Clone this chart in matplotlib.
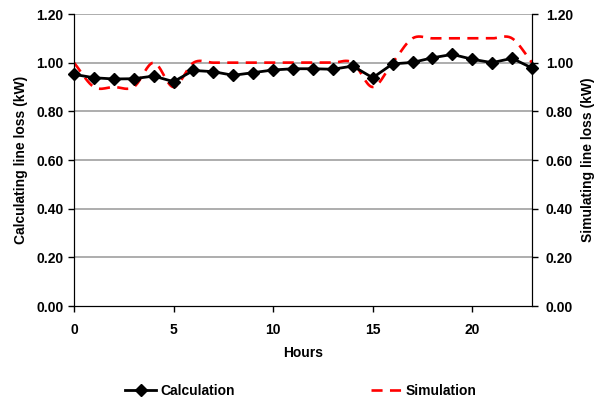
import matplotlib.pyplot as plt
import numpy as np

plt.rcParams['font.family'] = ['Liberation Sans', 'DejaVu Sans']
plt.rcParams['font.weight'] = 'bold'

hours = list(range(24))
calculation = [0.952, 0.938, 0.933, 0.934, 0.945, 0.922, 0.968, 0.963, 0.948, 0.959,
               0.970, 0.975, 0.975, 0.973, 0.986, 0.938, 0.995, 1.001, 1.020, 1.034,
               1.014, 1.000, 1.018, 0.978]
simulation = [1.0, 0.9, 0.9, 0.9, 1.0, 0.9, 1.0, 1.0, 1.0, 1.0,
              1.0, 1.0, 1.0, 1.0, 1.0, 0.9, 1.0, 1.1, 1.1, 1.1,
              1.1, 1.1, 1.1, 1.0]
yticks = [0.0, 0.2, 0.4, 0.6, 0.8, 1.0, 1.2]


def smooth(x, y, n=20):
    # Excel-style smoothed line (Catmull-Rom)
    x = np.asarray(x, float)
    y = np.asarray(y, float)
    px = np.concatenate([[2 * x[0] - x[1]], x, [2 * x[-1] - x[-2]]])
    py = np.concatenate([[2 * y[0] - y[1]], y, [2 * y[-1] - y[-2]]])
    xs, ys = [], []
    t = np.linspace(0, 1, n, endpoint=False)
    for i in range(1, len(px) - 2):
        for p, out in ((px, xs), (py, ys)):
            p0, p1, p2, p3 = p[i - 1], p[i], p[i + 1], p[i + 2]
            out.extend(0.5 * (2 * p1 + (-p0 + p2) * t
                              + (2 * p0 - 5 * p1 + 4 * p2 - p3) * t ** 2
                              + (-p0 + 3 * p1 - 3 * p2 + p3) * t ** 3))
    xs.append(x[-1])
    ys.append(y[-1])
    return xs, ys


fig = plt.figure(figsize=(5.99, 3.98), dpi=100)
# plot area: x 74..532 px, y 14..306 px
ax = fig.add_axes([74 / 599, 1 - 306 / 398, 458 / 599, 292 / 398])

for v in yticks[1:]:
    ax.axhline(v, color='#a0a0a0', lw=1.2, zorder=0)

sx, sy = smooth(hours, simulation)
ax.plot(sx, sy, color='red', lw=1.9, dashes=(4.2, 2.8), label='Simulation', zorder=2)
ax.plot(hours, calculation, color='black', lw=2, marker='D', markersize=6,
        label='Calculation', zorder=3, clip_on=False)

ax.set_xlim(0, 23)
ax.set_ylim(0, 1.2)
ax.set_xticks([0, 5, 10, 15, 20])
ax.set_yticks(yticks)
ax.set_yticklabels(['%.2f' % v for v in yticks])
ax.tick_params(axis='both', labelsize=10, direction='out', length=4, width=1)
ax.tick_params(axis='x', pad=8)
ax.spines['top'].set_visible(False)
ax.set_xlabel('Hours', fontsize=10, fontweight='bold', labelpad=7)
ax.set_ylabel('Calculating line loss (kW)', fontsize=10, fontweight='bold', labelpad=6)

ax2 = ax.twinx()
ax2.set_ylim(0, 1.2)
ax2.set_yticks(yticks)
ax2.set_yticklabels(['%.2f' % v for v in yticks])
ax2.tick_params(axis='y', labelsize=10, direction='out', length=4, width=1, pad=6)
ax2.spines['top'].set_visible(False)
ax2.set_ylabel('Simulating line loss (kW)', fontsize=10, fontweight='bold', labelpad=6)

h, l = ax.get_legend_handles_labels()
fig.legend(h[::-1], l[::-1], loc='center', bbox_to_anchor=(0.502, 0.018), ncol=2,
           frameon=False, fontsize=10, columnspacing=9.8, handlelength=2.2,
           handletextpad=0.3)

fig.savefig('out.png', dpi=100)
